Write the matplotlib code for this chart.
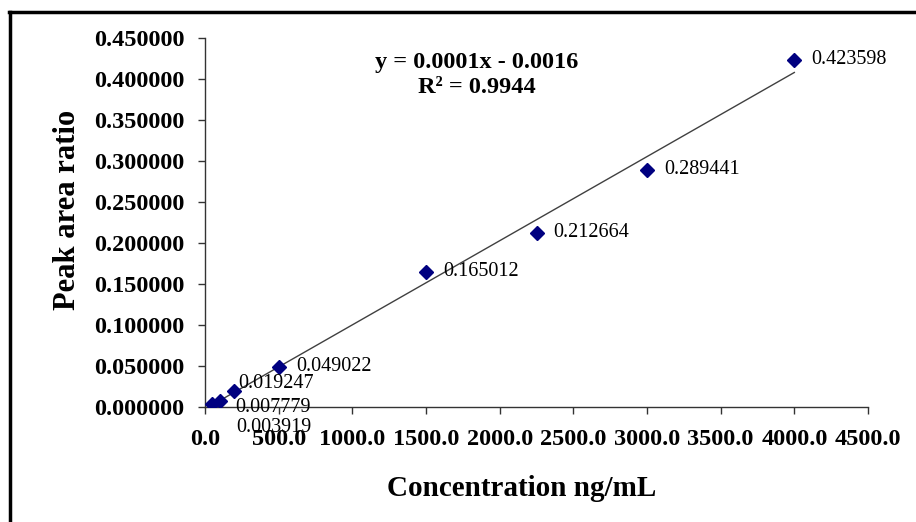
import numpy as np
import matplotlib
matplotlib.use("Agg")
import matplotlib.pyplot as plt
from matplotlib.lines import Line2D
from matplotlib.ticker import FormatStrFormatter, MultipleLocator

# calibration data
conc = [50, 100, 200, 500, 1500, 2250, 3000, 4000]
ratio = [0.003919, 0.007779, 0.019247, 0.049022, 0.165012, 0.212664, 0.289441, 0.423598]
point_labels = ["0.003919", "0.007779", "0.019247", "0.049022",
                "0.165012", "0.212664", "0.289441", "0.423598"]
eq_text = "y = 0.0001x - 0.0016\nR\u00b2 = 0.9944"

# label offsets in pixels (dx right, dy up)
lbl_off = [(24, -24), (16, -7), (4, 8), (18, 0), (17, 0), (17, 0), (17, 0), (17, 0)]

plt.rcParams['font.family'] = ['Liberation Serif', 'DejaVu Serif']

fig = plt.figure(figsize=(9.16, 5.22), dpi=100)
ax = fig.add_axes([205/916, 1-407/522, 663/916, 369/522])

# trendline from least squares fit
k, b = np.polyfit(conc, ratio, 1)
xs = np.array([min(conc), max(conc)])
ax.plot(xs, k*xs + b, color='#404040', lw=1.0, zorder=2)

ax.plot(conc, ratio, 'D', color='#000080', ms=7, zorder=3)

for xv, yv, t, (dx, dy) in zip(conc, ratio, point_labels, lbl_off):
    ax.annotate(t, (xv, yv), xytext=(dx*0.72, dy*0.72), textcoords='offset points',
                ha='left', va='center', fontsize=14.5, color='black', zorder=4)

ax.text(0.41, 0.9, eq_text, transform=ax.transAxes, ha='center', va='center',
        fontsize=17.5, fontweight='bold', linespacing=1.2)

ax.set_xlim(0, 4500)
ax.set_ylim(0, 0.45)
ax.xaxis.set_major_locator(MultipleLocator(500))
ax.yaxis.set_major_locator(MultipleLocator(0.05))
ax.xaxis.set_major_formatter(FormatStrFormatter('%.1f'))
ax.yaxis.set_major_formatter(FormatStrFormatter('%.6f'))

for s in ['top', 'right']:
    ax.spines[s].set_visible(False)
for s in ['left', 'bottom']:
    ax.spines[s].set_color('#333333')
    ax.spines[s].set_linewidth(1.0)

ax.tick_params(axis='both', direction='out', length=5, width=1, color='#333333',
               labelsize=17.5)
ax.tick_params(axis='y', pad=10)
ax.tick_params(axis='x', pad=11)
for lab in ax.get_xticklabels() + ax.get_yticklabels():
    lab.set_fontweight('bold')

ax.set_xlabel('Concentration ng/mL', fontsize=21, fontweight='bold')
ax.xaxis.set_label_coords(0.477, -0.22)
ax.xaxis.label.set_va('center')
ax.set_ylabel('Peak area ratio', fontsize=22, fontweight='bold')
ax.yaxis.set_label_coords(-0.207, 0.534)
ax.yaxis.label.set_va('center')

# outer frame (left and top edges)
fig.add_artist(Line2D([10/916, 10/916], [0, 1-12/522], transform=fig.transFigure,
                      color='black', lw=2.5))
fig.add_artist(Line2D([9/916, 1], [1-12/522, 1-12/522], transform=fig.transFigure,
                      color='black', lw=2.5))

fig.savefig('out.png', dpi=100)
